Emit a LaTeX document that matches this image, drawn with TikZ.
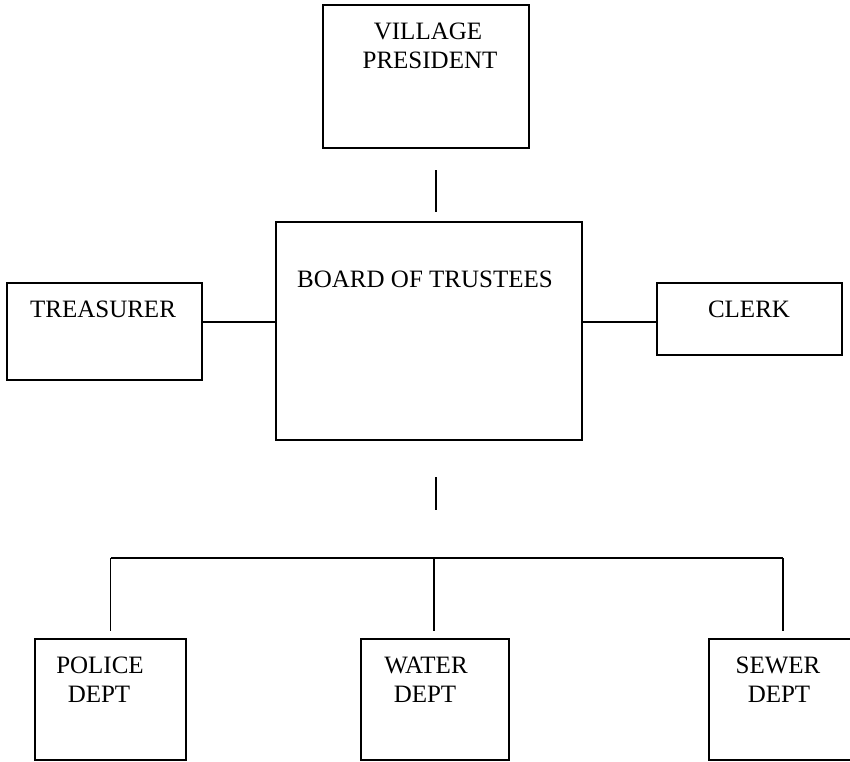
\documentclass[tikz,border=0pt]{standalone}
\usepackage{fontspec}
\setmainfont{Liberation Serif}
\begin{document}
\begin{tikzpicture}[x=1pt,y=-1pt,
  box/.style={draw,line width=1.6pt,rectangle,inner sep=0pt},
  lbl/.style={anchor=base,inner sep=0pt,font=\fontsize{25}{29}\selectfont},
  conn/.style={line width=1.6pt}]
\useasboundingbox (0,0) rectangle (850,761);
% boxes
\node[box,minimum width=206pt,minimum height=143pt] (vp) at (426,76.5) {};
\node[box,minimum width=306pt,minimum height=218pt] (board) at (429,331) {};
\node[box,minimum width=195pt,minimum height=97pt] (treas) at (104.5,331.5) {};
\node[box,minimum width=185pt,minimum height=72pt] (clerk) at (749.5,319) {};
\node[box,minimum width=151pt,minimum height=121pt] (police) at (110.5,699.5) {};
\node[box,minimum width=148pt,minimum height=121pt] (water) at (435,699.5) {};
\node[box,minimum width=157pt,minimum height=121pt] (sewer) at (787.5,699.5) {};
% labels
\node[lbl] (vpa) at (428,39) {VILLAGE};
\node[lbl] (vpb) at (430,68) {PRESIDENT};
\node[lbl] (boardt) at (425,287) {BOARD OF TRUSTEES};
\node[lbl] (treast) at (103,317) {TREASURER};
\node[lbl] (clerkt) at (749,317) {CLERK};
\node[lbl] (pola) at (100,673) {POLICE};
\node[lbl] (polb) at (99,702) {DEPT};
\node[lbl] (wata) at (426,673) {WATER};
\node[lbl] (watb) at (425,702) {DEPT};
\node[lbl] (sewa) at (778,673) {SEWER};
\node[lbl] (sewb) at (779,702) {DEPT};
% connector coordinates
\coordinate (t1) at (436,170);
\coordinate (t2) at (436,212);
\coordinate (m1) at (436,477);
\coordinate (m2) at (436,510);
\coordinate (b1) at (110.5,558);
\coordinate (b2) at (434,558);
\coordinate (b3) at (783,558);
\coordinate (ly) at (0,322);
% connectors
\draw[conn] (t1) -- (t2);
\draw[conn] (m1) -- (m2);
\draw[conn] (treas.east |- ly) -- (board.west |- ly);
\draw[conn] (board.east |- ly) -- (clerk.west |- ly);
\draw[conn] (b1) -- (b3);
\draw[conn,shorten >=7pt] (b1) -- (b1 |- police.north);
\draw[conn,shorten >=7pt] (b2) -- (b2 |- water.north);
\draw[conn,shorten >=7pt] (b3) -- (b3 |- sewer.north);
\end{tikzpicture}
\end{document}
